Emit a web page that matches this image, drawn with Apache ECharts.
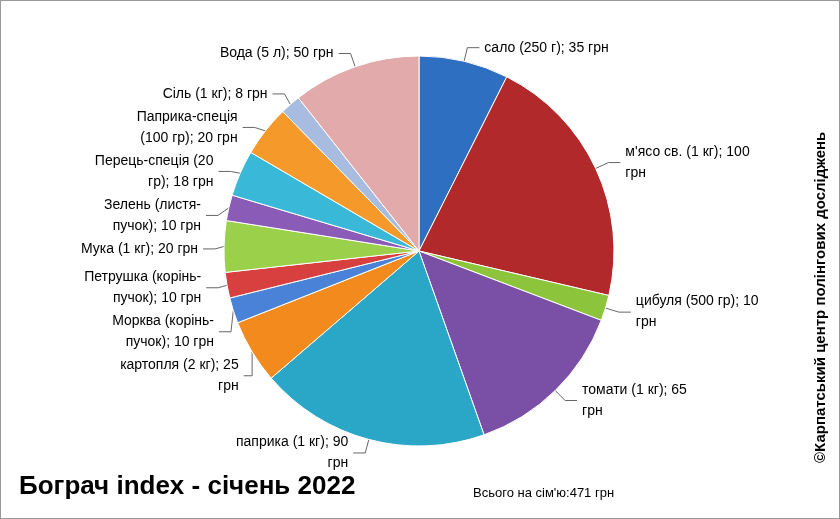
<!DOCTYPE html>
<html><head><meta charset="utf-8">
<script src="https://cdn.jsdelivr.net/npm/echarts@6/dist/echarts.min.js"></script>
<style>html,body{margin:0;background:#fff}#c{width:840px;height:519px;box-sizing:border-box;border:1px solid #999}</style>
</head><body><div id="c"></div>
<script>
var names = ['сало (250 г)', 'м\'ясо св. (1 кг)', 'цибуля (500 гр)', 'томати (1 кг)', 'паприка (1 кг)', 'картопля (2 кг)',
  'Морква (корінь-пучок)', 'Петрушка (корінь-пучок)', 'Мука (1 кг)', 'Зелень (листя-пучок)', 'Перець-спеція (20 гр)',
  'Паприка-спеція (100 гр)', 'Сіль (1 кг)', 'Вода (5 л)'];
var labels = ['сало (250 г); 35 грн', 'м\'ясо св. (1 кг); 100\nгрн', 'цибуля (500 гр); 10\nгрн', 'томати (1 кг); 65\nгрн',
  'паприка (1 кг); 90\nгрн', 'картопля (2 кг); 25\nгрн', 'Морква (корінь-\nпучок); 10 грн', 'Петрушка (корінь-\nпучок); 10 грн',
  'Мука (1 кг); 20 грн', 'Зелень (листя-\nпучок); 10 грн', 'Перець-спеція (20\nгр); 18 грн', 'Паприка-спеція\n(100 гр); 20 грн',
  'Сіль (1 кг); 8 грн', 'Вода (5 л); 50 грн'];
var values = [35, 100, 10, 65, 90, 25, 10, 10, 20, 10, 18, 20, 8, 50];
var colors = ['#2f6fc2', '#b1292b', '#8cc43c', '#7a4fa6', '#2aa6c6', '#f28a1e', '#4a82d8', '#d84040',
  '#9ad04a', '#8a5cb8', '#3ab8d8', '#f59a2a', '#a8bce0', '#e2aaaa'];

var chart = echarts.init(document.getElementById('c'));
chart.setOption({
  animation: false,
  series: [{
    type: 'pie',
    center: [418, 250],
    radius: 195,
    startAngle: 90,
    clockwise: true,
    data: names.map(function (n, i) {
      return { name: n, value: values[i], itemStyle: { color: colors[i] }, label: { formatter: labels[i] } };
    }),
    itemStyle: { borderColor: '#fff', borderWidth: 1 },
    label: { fontSize: 14, color: '#000', fontFamily: 'Liberation Sans', lineHeight: 21 },
    labelLine: { length: 14, length2: 12, lineStyle: { color: '#666' } }
  }],
  graphic: [
    { type: 'text', left: 18, top: 473, style: { text: 'Бограч index - січень 2022', font: 'bold 26px "Liberation Sans"', fill: '#000' } },
    { type: 'text', left: 472, top: 486, style: { text: 'Всього на сім\'ю:471 грн', font: '13px "Liberation Sans"', fill: '#000' } },
    { type: 'text', x: 812, y: 462, rotation: Math.PI / 2, style: { text: '©Карпатський центр полінгових досліджень', font: 'bold 15px "Liberation Sans"', fill: '#000' } }
  ]
});
</script></body></html>
